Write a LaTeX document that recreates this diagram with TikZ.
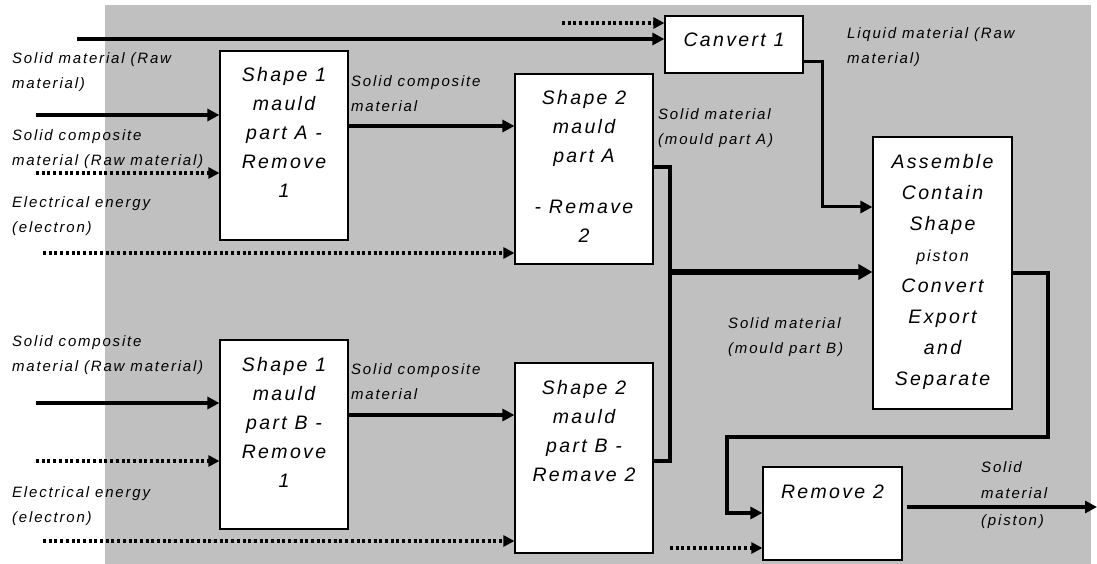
\documentclass[tikz,border=0pt]{standalone}
\usepackage{fontspec}
\setmainfont{Liberation Sans}[LetterSpace=12]
\usetikzlibrary{arrows.meta}

\definecolor{panelgray}{HTML}{C0C0C0}
\newcommand{\lblfont}{\fontsize{15}{25}\selectfont\itshape}
\newcommand{\proctext}[4][29pt]{\parbox[c][#3][t]{#2}{\centering\fontsize{19.5}{#1}\selectfont\itshape\rule{0pt}{31pt}#4}}

\tikzset{
    proc/.style={draw, fill=white, line width=1.2pt, inner sep=0pt},
    flow/.style={line width=3.5pt, -{Triangle[length=12pt,width=12pt]}},
    power/.style={line width=3.5pt, dash pattern=on 3pt off 2.7pt, -{Triangle[length=11pt,width=11pt]}},
    lbl/.style={anchor=north west, align=left, inner sep=0pt, font=\lblfont}
}

\begin{document}
\begin{tikzpicture}[x=1pt, y=-1pt]
        \useasboundingbox (0,0) rectangle (1097,564);
        \fill[panelgray] (105,5) rectangle (1091,564);

        \node[proc] (s1a) at (284,145.5) {\proctext{128pt}{189pt}{Shape 1\\mauld\\part A -\\Remove\\1}};
        \node[proc] (s2a) at (584,169) {\proctext{138pt}{190pt}{Shape 2\\mauld\\part A\\[22pt]- Remave\\2}};
        \node[proc] (conv) at (734,44.5) {\proctext{138pt}{57pt}{Canvert 1}};
        \node[proc] (asm) at (942.5,273) {\proctext[31pt]{139pt}{272pt}{Assemble\\Contain\\Shape\\{\fontsize{16}{31}\selectfont piston}\\Convert\\Export\\and\\Separate}};
        \node[proc] (s1b) at (284,434.5) {\proctext{128pt}{189pt}{Shape 1\\mauld\\part B -\\Remove\\1}};
        \node[proc] (s2b) at (584,458) {\proctext{138pt}{190pt}{Shape 2\\mauld\\part B -\\Remave 2}};
        \node[proc] (rem) at (832.5,513.5) {\proctext{139pt}{93pt}{Remove 2}};

        \node[lbl] (l1) at (12,52) {Solid material (Raw\\material)};
        \node[lbl] (l2) at (12,129) {Solid composite\\material (Raw material)};
        \node[lbl] (l3) at (12,196) {Electrical energy\\(electron)};
        \node[lbl] (l4) at (351,75) {Solid composite\\material};
        \node[lbl] (l5) at (658,108) {Solid material\\(mould part A)};
        \node[lbl] (l6) at (847,27) {Liquid material (Raw\\material)};
        \node[lbl] (l7) at (728,317) {Solid material\\(mould part B)};
        \node[lbl] (l8) at (351,363) {Solid composite\\material};
        \node[lbl] (l9) at (12,335) {Solid composite\\material (Raw material)};
        \node[lbl] (l10) at (12,486) {Electrical energy\\(electron)};
        \node[lbl, font=\fontsize{15}{26.5}\selectfont\itshape] (l11) at (981,461) {Solid\\material\\(piston)};

        \coordinate (topin) at (77,39);
        \coordinate (topdot) at (562,23);
        \draw[flow] (topin) -- (topin -| conv.west);
        \draw[power] (topdot) -- (topdot -| conv.west);

        \coordinate (ina1) at (36,115);
        \coordinate (ina2) at (36,173);
        \coordinate (ina3) at (43,253);
        \draw[flow] (ina1) -- (ina1 -| s1a.west);
        \draw[power] (ina2) -- (ina2 -| s1a.west);
        \draw[flow] (s1a.east |- 0,126) -- (s2a.west |- 0,126);
        \draw[power] (ina3) -- (ina3 -| s2a.west);

        \coordinate (inb1) at (36,403);
        \coordinate (inb2) at (36,461);
        \coordinate (inb3) at (43,541);
        \draw[flow] (inb1) -- (inb1 -| s1b.west);
        \draw[power] (inb2) -- (inb2 -| s1b.west);
        \draw[flow] (s1b.east |- 0,415) -- (s2b.west |- 0,415);
        \draw[power] (inb3) -- (inb3 -| s2b.west);

        \draw[flow, line width=3pt] (conv.east |- 0,62) -| (822,207) -- (asm.west |- 0,207);
        \draw[line width=4pt] (s2a.east |- 0,167) -| (670,461) -- (s2b.east |- 0,461);
        \coordinate (jn) at (668,272);
        \draw[line width=6pt, -{Triangle[length=14pt,width=15pt]}] (jn) -- (jn -| asm.west);

        \draw[flow] (asm.east |- 0,273) -| (1048,437) -| (727,513) -- (rem.west |- 0,513);
        \coordinate (remdot) at (670,548);
        \draw[power] (remdot) -- (remdot -| rem.west);
        \coordinate (outstart) at (907,507);
        \coordinate (outend) at (1097,507);
        \draw[flow] (outstart) -- (outend);
\end{tikzpicture}
\end{document}
